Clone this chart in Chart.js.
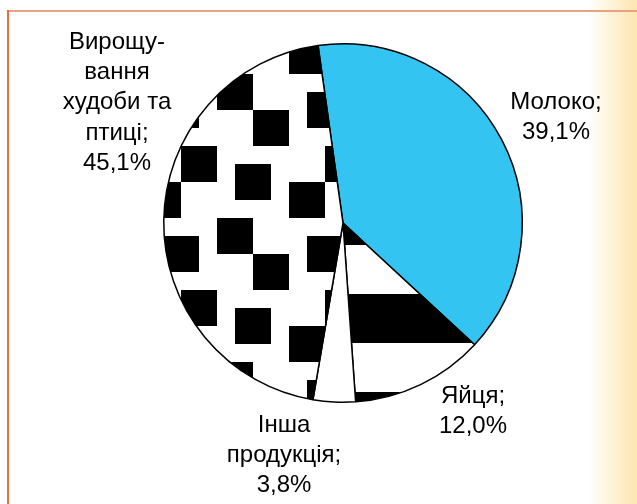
<!DOCTYPE html>
<html>
<head>
<meta charset="utf-8">
<script src="https://cdn.jsdelivr.net/npm/chart.js@4.4.1/dist/chart.umd.min.js"></script>
<style>
  html, body { margin: 0; padding: 0; background: #fff; }
  #wrap {
    position: relative; width: 637px; height: 504px; overflow: hidden;
    background: linear-gradient(to right, #ffffff 0px, #ffffff 588px, #fde6ae 637px);
  }
  #frameTop { position: absolute; left: 8px; top: 10px; width: 629px; height: 2px; background: #eba282; }
  #frameLeft { position: absolute; left: 7px; top: 10px; width: 2px; height: 494px; background: #e2703e; }
  #c { position: absolute; left: 0; top: 0; }
</style>
</head>
<body>
<div id="wrap">
  <div id="frameTop"></div>
  <div id="frameLeft"></div>
  <canvas id="c" width="637" height="504"></canvas>
</div>
<script>
var categories = ["Молоко", "Яйця", "Інша продукція", "Вирощування худоби та птиці"];
var shares = [39.1, 12.0, 3.8, 45.1];
var labelLines = [["Молоко;"], ["Яйця;"], ["Інша", "продукція;"], ["Вирощу-", "вання", "худоби та", "птиці;"]];

var ctx = document.getElementById("c").getContext("2d");

// large confetti fill for the livestock slice
function confettiPattern() {
  var u = 18;
  var c = document.createElement("canvas");
  c.width = c.height = 8 * u;
  var g = c.getContext("2d");
  g.fillStyle = "#fff";
  g.fillRect(0, 0, c.width, c.height);
  g.fillStyle = "#000";
  [[2, 0], [5, 1], [0, 2], [4, 4], [1, 5], [6, 6]].forEach(function (b) {
    g.fillRect(b[0] * u, b[1] * u, 2 * u, 2 * u);
  });
  var p = ctx.createPattern(c, "repeat");
  p.setTransform(new DOMMatrix().translate(1, 2));
  return p;
}

// wide horizontal stripes for the eggs slice
function stripePattern() {
  var c = document.createElement("canvas");
  c.width = 8; c.height = 98;
  var g = c.getContext("2d");
  g.fillStyle = "#fff";
  g.fillRect(0, 0, 8, 98);
  g.fillStyle = "#000";
  g.fillRect(0, 0, 8, 49);
  return ctx.createPattern(c, "repeat");
}

// x centre and first baseline of each text block, relative to the pie centre
var labelPlace = [
  { dx: 213, dy: -114 },
  { dx: 130, dy: 180 },
  { dx: -59, dy: 209 },
  { dx: -226, dy: -174 }
];

var pieLabels = {
  id: "pieLabels",
  afterDatasetsDraw: function (chart) {
    var arcs = chart.getDatasetMeta(0).data;
    var c = chart.ctx;
    c.save();
    c.font = '24px "Liberation Sans", Arial, sans-serif';
    c.fillStyle = "#000";
    c.textAlign = "center";
    c.textBaseline = "alphabetic";
    arcs.forEach(function (arc, i) {
      var lines = labelLines[i].concat([shares[i].toFixed(1).replace(".", ",") + "%"]);
      var lh = 30.2;
      var cx = arc.x + labelPlace[i].dx;
      var y0 = arc.y + labelPlace[i].dy;
      lines.forEach(function (t, k) {
        c.fillText(t, cx, y0 + k * lh);
      });
    });
    c.restore();
  }
};

new Chart(ctx, {
  type: "pie",
  data: {
    labels: categories,
    datasets: [
      {
        data: shares,
        backgroundColor: ["#33c4f2", stripePattern(), "#ffffff", confettiPattern()],
        borderColor: "#000",
        borderWidth: 1.5,
      },
    ],
  },
  options: {
    responsive: false,
    animation: false,
    rotation: -8,
    layout: { padding: { left: 163, right: 114, top: 43, bottom: 101 } },
    plugins: {
      legend: { display: false },
      tooltip: { enabled: false }
    }
  },
  plugins: [pieLabels]
});
</script>
</body>
</html>
